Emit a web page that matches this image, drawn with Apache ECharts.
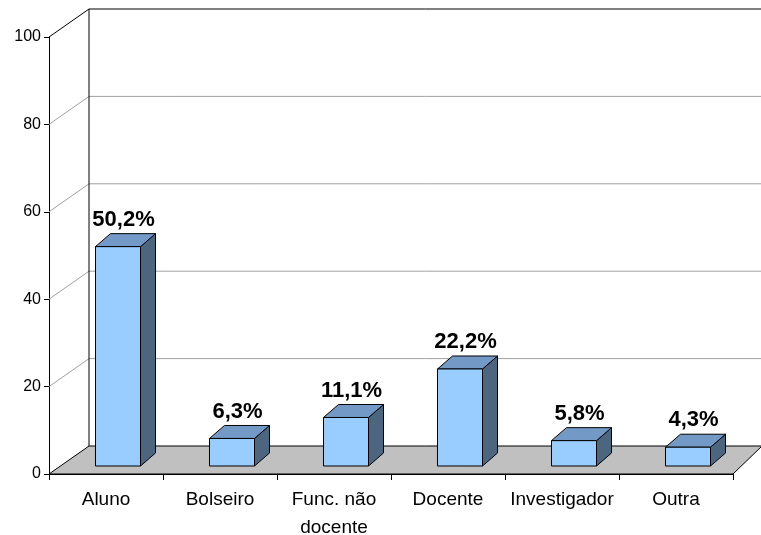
<!DOCTYPE html>
<html>
<head>
<meta charset="utf-8">
<script src="https://cdn.jsdelivr.net/npm/echarts@6/dist/echarts.min.js"></script>
<style>
html, body { margin: 0; padding: 0; background: #fff; }
#chart { width: 761px; height: 535px; }
</style>
</head>
<body>
<div id="chart"></div>
<script>
var categories = ['Aluno', 'Bolseiro', 'Func. não\ndocente', 'Docente', 'Investigador', 'Outra'];
var values = [50.2, 6.3, 11.1, 22.2, 5.8, 4.3];
var yTicks = [0, 20, 40, 60, 80, 100];

var FONT = 'Liberation Sans, Arial, sans-serif';
// fake 3d: depth of walls / floor and of the bars
var WALL_DX_L = 40, WALL_DX_R = 29, WALL_DY = 28;
var BAR_DX = 12, BAR_DY = 8;
var TOP_DX = 15, TOP_DY = 13;

function fmt(v) {
    return v.toFixed(1).replace('.', ',') + '%';
}

// gridlines on left wall + back wall
function renderGrid(params, api) {
    var cs = params.coordSys;
    var v = api.value(1);
    if (v === 0) return;
    var y = api.coord([0, v])[1];
    var x0 = cs.x, x1 = cs.x + cs.width;
    return {
        type: 'polyline',
        shape: { points: [[x0, y], [x0 + WALL_DX_L, y - WALL_DY], [x1 + WALL_DX_R, y - WALL_DY]] },
        style: { stroke: v === 100 ? '#000' : '#a0a0a0', lineWidth: 1, fill: null }
    };
}

// floor + wall edges
function renderFloor(params, api) {
    var cs = params.coordSys;
    var x0 = cs.x, x1 = cs.x + cs.width;
    var yb = api.coord([0, 0])[1];
    var yt = api.coord([0, 100])[1];
    return {
        type: 'group',
        children: [
            {
                type: 'polygon',
                shape: { points: [[x0, yb], [x1, yb], [x1 + WALL_DX_R, yb - WALL_DY], [x0 + WALL_DX_L, yb - WALL_DY]] },
                style: { fill: '#c0c0c0', stroke: '#000', lineWidth: 1 }
            },
            {
                type: 'line',
                shape: { x1: x0 + WALL_DX_L, y1: yt - WALL_DY, x2: x0 + WALL_DX_L, y2: yb - WALL_DY },
                style: { stroke: '#000', lineWidth: 1 }
            }
        ]
    };
}

function renderBar(params, api) {
    var i = api.value(0), v = api.value(1);
    var base = api.coord([i, 0]), top = api.coord([i, v]);
    var bw = api.size([1, 0])[0] * 0.395;
    var x0 = base[0] - bw / 2 + BAR_DX, x1 = x0 + bw;
    var yb = base[1] - BAR_DY, yt = top[1] - BAR_DY;
    var line = { stroke: '#000', lineWidth: 1 };
    return {
        type: 'group',
        children: [
            {
                type: 'polygon',
                shape: { points: [[x1, yb], [x1 + TOP_DX, yb - TOP_DY], [x1 + TOP_DX, yt - TOP_DY], [x1, yt]] },
                style: Object.assign({ fill: '#4d6680' }, line)
            },
            {
                type: 'polygon',
                shape: { points: [[x0, yt], [x1, yt], [x1 + TOP_DX, yt - TOP_DY], [x0 + TOP_DX, yt - TOP_DY]] },
                style: Object.assign({ fill: '#7399c6' }, line)
            },
            {
                type: 'rect',
                shape: { x: x0, y: yt, width: bw, height: yb - yt },
                style: Object.assign({ fill: '#99ccff' }, line)
            },
            {
                type: 'text',
                style: {
                    text: fmt(v),
                    x: (x0 + x1) / 2 + TOP_DX / 2 - 2,
                    y: yt - TOP_DY - 3,
                    align: 'center', verticalAlign: 'bottom',
                    textAlign: 'center', textVerticalAlign: 'bottom',
                    font: 'bold 22px ' + FONT,
                    fill: '#000'
                }
            }
        ]
    };
}

var chart = echarts.init(document.getElementById('chart'));
var option = {
    animation: false,
    backgroundColor: '#fff',
    grid: { left: 49, right: 28, top: 37, bottom: 61, outerBoundsMode: 'none', containLabel: false },
    xAxis: {
        type: 'category',
        data: categories,
        axisLine: { lineStyle: { color: '#000', width: 1 } },
        axisTick: { show: true, alignWithLabel: false, length: 6, lineStyle: { color: '#000' } },
        axisLabel: { interval: 0, color: '#000', fontFamily: FONT, fontSize: 19, margin: 12, lineHeight: 28 },
        splitLine: { show: false }
    },
    yAxis: {
        type: 'value',
        min: 0, max: 100, interval: 20,
        axisLine: { show: true, lineStyle: { color: '#000', width: 1 } },
        axisTick: { show: true, length: 5, lineStyle: { color: '#000' } },
        axisLabel: { color: '#000', fontFamily: FONT, fontSize: 16, margin: 8 },
        splitLine: { show: false }
    },
    series: [
        {
            type: 'custom', z: 1, silent: true,
            renderItem: renderGrid,
            encode: { x: 0, y: 1 },
            data: yTicks.map(function (t) { return [0, t]; })
        },
        {
            type: 'custom', z: 2, silent: true,
            renderItem: renderFloor,
            encode: { x: 0, y: 1 },
            data: [[0, 0]]
        },
        {
            type: 'custom', z: 3,
            renderItem: renderBar,
            encode: { x: 0, y: 1 },
            data: values.map(function (v, i) { return [i, v]; })
        }
    ]
};
chart.setOption(option);
window.addEventListener('resize', function () { chart.resize(); });
</script>
</body>
</html>
